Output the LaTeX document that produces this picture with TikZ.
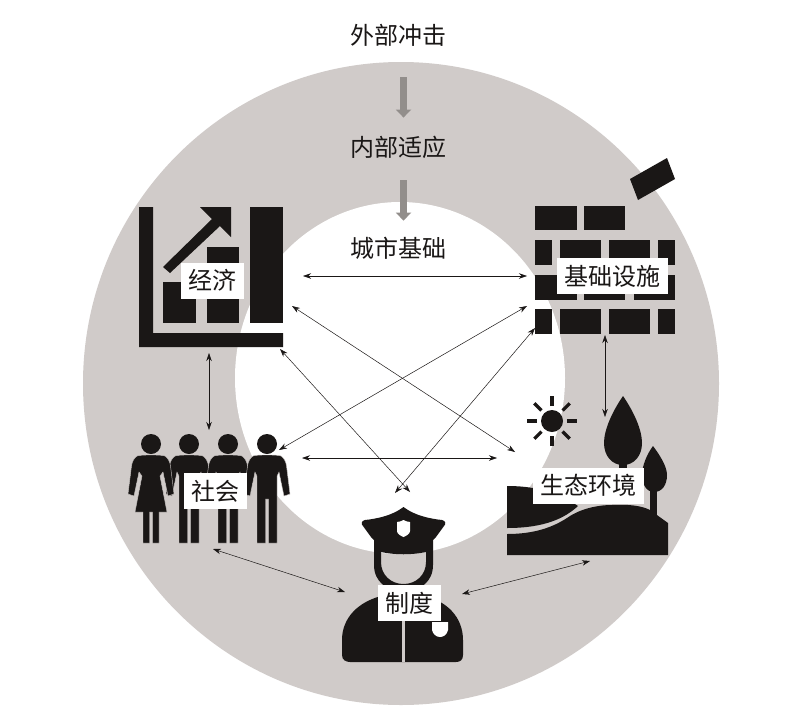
\documentclass[tikz,border=0pt]{standalone}
\usepackage{fontspec}
\newfontfamily\cjk{Noto Sans CJK SC}
\usetikzlibrary{arrows.meta}
\definecolor{my-ink}{HTML}{1A1716}
\definecolor{my-ring}{HTML}{D0CBC9}
\definecolor{my-arrow}{HTML}{928E8B}
\tikzset{
  lab/.style={fill=white, inner xsep=7.5pt, inner ysep=0pt, minimum height=36pt, text=my-ink,
    font=\cjk\fontsize{24}{24}\selectfont},
  head/.style={inner sep=0pt, text=my-ink, font=\cjk\fontsize{24}{24}\selectfont},
  ink/.style={fill=my-ink},
  link/.style={<->, >={Stealth[length=8pt,width=5.5pt]}, my-ink, line width=0.5pt},
  fat/.style={-{Triangle[length=8pt,width=15pt]}, my-arrow, line width=7pt},
}
\begin{document}
\begin{tikzpicture}[x=1pt, y=-1pt]
    \def\Man{
      (0,11) .. controls (-6,11) and (-11,11) .. (-14,12) .. controls (-17,14) and (-19,18) .. (-19.5,22)
      -- (-23,50) -- (-17,52) -- (-12,28) -- (-10,32) -- (-10,99) -- (-1.5,99) -- (-1.5,55) -- (1.5,55) -- (1.5,99)
      -- (10,99) -- (10,32) -- (12,28) -- (17,52) -- (23,50) -- (19.5,22)
      .. controls (19,18) and (17,14) .. (14,12) .. controls (11,11) and (6,11) .. (0,11) -- cycle}
    \def\Woman{
      (0,11) .. controls (-6,11) and (-11,11) .. (-14,12) .. controls (-17,14) and (-19,18) .. (-19.5,22)
      -- (-23,50) -- (-17,52) -- (-12,28) -- (-9,32) -- (-16,68) -- (-8,68) -- (-8,99) -- (-1.5,99) -- (-1.5,68)
      -- (1.5,68) -- (1.5,99) -- (8,99) -- (8,68) -- (16,68) -- (9,32) -- (12,28) -- (17,52) -- (23,50) -- (19.5,22)
      .. controls (19,18) and (17,14) .. (14,12) .. controls (11,11) and (6,11) .. (0,11) -- cycle}
    \useasboundingbox (0,0) rectangle (800,715);
    \fill[white] (0,0) rectangle (800,715);
    \fill[my-ring] (401,383.5) ellipse (318 and 321.5);
    \fill[white] (400,378) ellipse (165 and 176);

    % economy
    \fill[ink] (139,207) -- (153,207) -- (153,333) -- (283,333) -- (283,347) -- (139,347) -- cycle;
    \fill[ink] (250,207) rectangle (283,323);
    \fill[ink] (207,247) rectangle (239,323);
    \fill[ink] (163,282) rectangle (196,323);
    \fill[ink] (200,207) -- (231,207) -- (231,237) -- (220,226) -- (170,273) -- (163,267) -- (212,219) -- cycle;

    % infrastructure
    \fill[ink] (630,179) -- (667,158) -- (675,179) -- (638,200) -- cycle;
    \foreach \xa/\xb in {535/577, 584/625} \fill[ink] (\xa,206) rectangle (\xb,230);
    \foreach \xa/\xb in {535/552, 560/601, 609/650, 658/675} {
      \fill[ink] (\xa,240) rectangle (\xb,265);
      \fill[ink] (\xa,309) rectangle (\xb,334);
    }
    \foreach \xa/\xb in {535/577, 584/625, 634/675} \fill[ink] (\xa,275) rectangle (\xb,300);

    % society
    \foreach \x in {189,228,267} {
      \begin{scope}[shift={(\x,444)}]
        \fill[ink] (0,0) circle (10);
        \filldraw[ink, draw=my-ring, line width=0.4pt] \Man;
      \end{scope}
    }
    \begin{scope}[shift={(151,444)}]
      \fill[ink] (0,0) circle (10);
      \filldraw[ink, draw=my-ring, line width=0.4pt] \Woman;
    \end{scope}

    % environment
    \fill[ink] (552,421) circle (11);
    \foreach \a in {0,45,...,315}
      \draw[my-ink, line width=3.2pt] (552,421) ++(\a:15) -- ++(\a:10);
    \fill[ink] (619,455) rectangle (627,480);
    \fill[ink] (623,396) .. controls (612,412) and (604,430) .. (604,443) .. controls (604,456) and (612,465) .. (623,465)
      .. controls (634,465) and (642,456) .. (642,443) .. controls (642,430) and (634,412) .. (623,396) -- cycle;
    \fill[ink] (650,485) rectangle (657,520);
    \fill[ink] (653,446) .. controls (647,454) and (642,466) .. (642,475) .. controls (642,485) and (647,492) .. (654,492)
      .. controls (662,492) and (667,485) .. (667,475) .. controls (667,466) and (659,454) .. (653,446) -- cycle;
    \fill[ink] (507,486) .. controls (530,486) and (555,490) .. (578,506) .. controls (565,518) and (545,528) .. (507,528) -- cycle;
    \fill[ink] (507,534) .. controls (535,534) and (553,527) .. (567,518) .. controls (578,510) and (595,505) .. (612,505)
      .. controls (630,504) and (642,506) .. (650,510) -- (668,523) -- (668,555) -- (507,555) -- cycle;

    % institution
    \fill[ink, even odd rule]
      (403.5,507) .. controls (415,516) and (432,519) .. (442,520) .. controls (446,521) and (446,524) .. (444,526)
      -- (436,537) -- (433,540) -- (433,565) .. controls (433,582) and (420,591) .. (403.5,591)
      .. controls (387,591) and (374,582) .. (374,565) -- (374,540) -- (371,537) -- (363,526)
      .. controls (361,524) and (361,521) .. (365,520) .. controls (375,519) and (392,516) .. (403.5,507) -- cycle
      (381,552) .. controls (395,555) and (412,555) .. (426,552) -- (426,562) .. controls (426,575) and (416,584) .. (403.5,584)
      .. controls (391,584) and (381,575) .. (381,562) -- cycle;
    \fill[white] (397,522) .. controls (400,522) and (401,521) .. (403.5,520) .. controls (406,521) and (407,522) .. (410,522)
      -- (410,531) .. controls (410,534) and (406,536) .. (403.5,537) .. controls (401,536) and (397,534) .. (397,531) -- cycle;
    \fill[ink] (342,640) .. controls (342,618) and (358,601) .. (385,595) -- (422,595)
      .. controls (448,601) and (463,618) .. (463,640) -- (463,655) .. controls (463,660) and (460,662) .. (456,662)
      -- (350,662) .. controls (346,662) and (342,660) .. (342,655) -- cycle;
    \draw[my-ring, line width=2.6pt] (403.5,618) -- (403.5,662);
    \fill[white] (432,622) -- (448,622) -- (448,630) .. controls (447,635) and (443,637) .. (440,637)
      .. controls (436,637) and (433,634) .. (432,630) -- cycle;

    \node[head] (waibu) at (398,35) {外部冲击};
    \node[head] (neibu) at (398,147) {内部适应};
    \node[head] (chengshi) at (398,248) {城市基础};
    \node[lab] (jingji) at (212.5,280.5) {经济};
    \node[lab] (jichu) at (612.5,276) {基础设施};
    \node[lab] (shehui) at (215.5,491) {社会};
    \node[lab] (shengtai) at (588.5,485.5) {生态环境};
    \node[lab] (zhidu) at (409,603) {制度};

    \draw[fat, shorten <=31pt, shorten >=18pt] ([xshift=5.5pt]waibu.south) -- ([xshift=5.5pt]neibu.north);
    \draw[fat, shorten <=22pt, shorten >=16pt] ([xshift=5.5pt]neibu.south) -- ([xshift=5.5pt]chengshi.north);

    \coordinate (ee) at (303,276);
    \coordinate (iw) at (527,276);
    \coordinate (es) at (209,353);
    \coordinate (sn) at (209,430);
    \coordinate (is) at (605,335);
    \coordinate (gn) at (605,417);
    \coordinate (se) at (302,458);
    \coordinate (gw) at (497,458);
    \coordinate (ec) at (280,349);
    \coordinate (zl) at (410,492);
    \coordinate (er) at (292,306);
    \coordinate (gl) at (515,452);
    \coordinate (il) at (527,306);
    \coordinate (sr) at (279,450);
    \coordinate (ib) at (535,328);
    \coordinate (zr) at (395,493);
    \coordinate (sb) at (213,549);
    \coordinate (zw) at (345,592);
    \coordinate (ze) at (462,594);
    \coordinate (gb) at (590,561);
    \foreach \a/\b in {ee/iw, es/sn, is/gn, se/gw, ec/zl, er/gl, il/sr, ib/zr, sb/zw, ze/gb}
      \draw[link] (\a) -- (\b);
\end{tikzpicture}
\end{document}
